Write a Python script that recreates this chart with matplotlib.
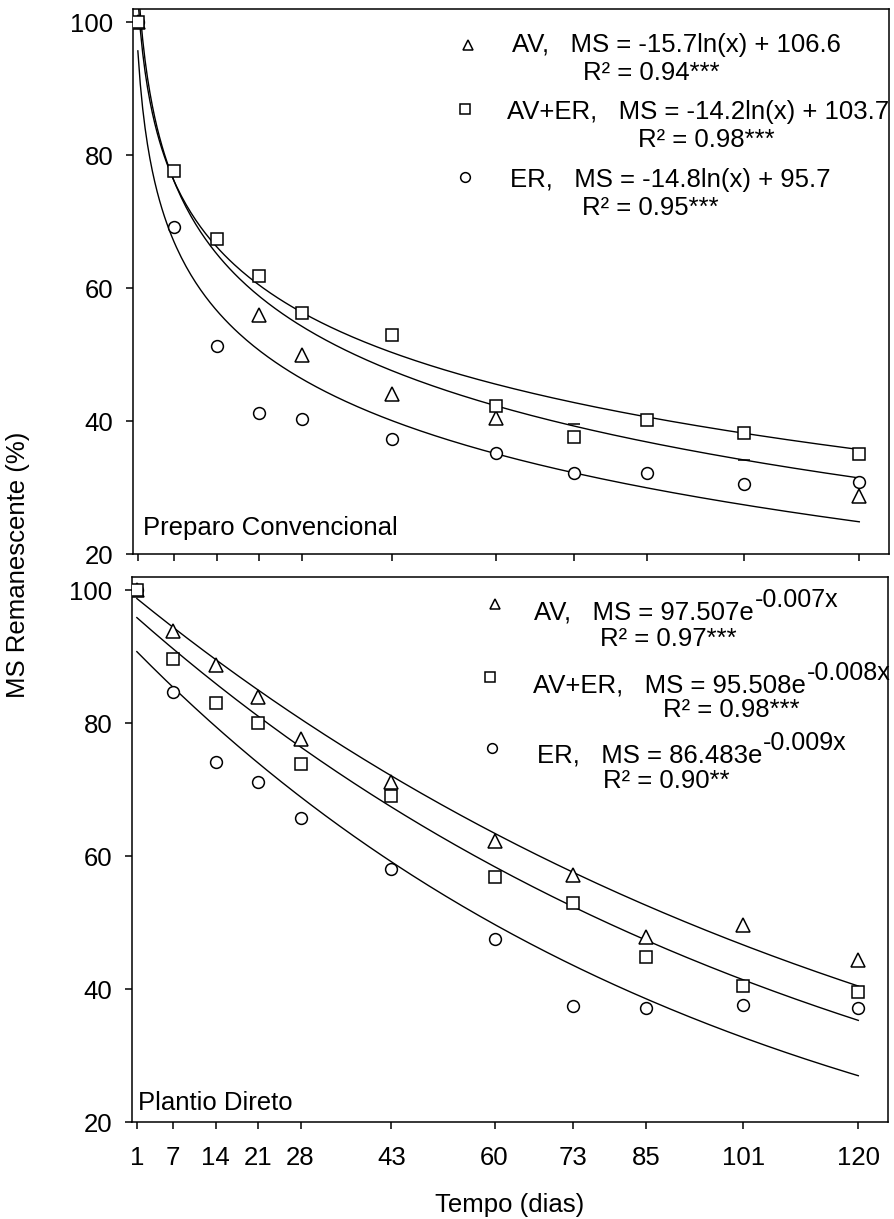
import numpy as np
import matplotlib.pyplot as plt

plt.rcParams['font.family'] = ['Liberation Sans', 'DejaVu Sans']

W, H = 895, 1219
FS = 18.5

# tempo (dias)
dias = [1, 7, 14, 21, 28, 43, 60, 73, 85, 101, 120]

# Preparo Convencional - MS remanescente (%)
pc_av = [100, np.nan, np.nan, 55.9, 49.9, 44.1, 40.5, np.nan, np.nan, np.nan, 28.7]
pc_av_partial = [np.nan, np.nan, np.nan, np.nan, np.nan, np.nan, np.nan, 39.5, np.nan, 34.2, np.nan]
pc_aver = [100, 77.7, 67.4, 61.8, 56.2, 52.9, 42.3, 37.6, 40.1, 38.2, 35.0]
pc_er = [100, 69.2, 51.3, 41.2, 40.3, 37.3, 35.2, 32.2, 32.2, 30.5, 30.8]

# Plantio Direto - MS remanescente (%)
pd_av = [100, 93.8, 88.8, 84.0, 77.7, 71.2, 62.3, 57.2, 47.8, 49.6, 44.4]
pd_aver = [100, 89.6, 83.1, 80.0, 73.9, 69.1, 56.8, 52.9, 44.8, 40.5, 39.5]
pd_er = [100, 84.7, 74.1, 71.2, 65.7, 58.0, 47.6, 37.5, 37.1, 37.6, 37.2]

# ajustes: PC -> a + b ln(x), PD -> a exp(-k x)   (ordem: AV, AV+ER, ER)
pc_fit_a = [106.6, 103.7, 95.7]
pc_fit_b = [-15.7, -14.2, -14.8]
pd_fit_a = [99.5, 96.7, 91.7]
pd_fit_k = [0.0075, 0.0084, 0.0102]

pc_eq = ["AV,   MS = -15.7ln(x) + 106.6", "AV+ER,   MS = -14.2ln(x) + 103.7", "ER,   MS = -14.8ln(x) + 95.7"]
pc_r2 = ["R² = 0.94***", "R² = 0.98***", "R² = 0.95***"]
pd_eq = ["AV,   MS = 97.507e", "AV+ER,   MS = 95.508e", "ER,   MS = 86.483e"]
pd_sup = ["-0.007x", "-0.008x", "-0.009x"]
pd_r2 = ["R² = 0.97***", "R² = 0.98***", "R² = 0.90**"]

markers = ['^', 's', 'o']
leg_msizes = [7.5, 7, 7]


def fx(px):
    return px / W


def fy(py):
    return 1 - py / H


fig = plt.figure(figsize=(W / 100, H / 100), dpi=100)
ax1 = fig.add_axes([fx(133), fy(554), fx(756), 545 / H])
ax2 = fig.add_axes([fx(132), fy(1122), fx(756), 545 / H])

xc = np.linspace(1, 120, 300)

for ax in (ax1, ax2):
    ax.set_xlim(0.2, 124.9)
    ax.set_ylim(20, 102)
    ax.set_xticks(dias)
    ax.set_yticks([20, 40, 60, 80, 100])
    ax.tick_params(direction='out', length=5, width=1.1, labelsize=FS, pad=9)
    for s in ax.spines.values():
        s.set_linewidth(1.1)

ax1.tick_params(axis='x', labelbottom=False)
ax2.tick_params(axis='x', pad=12)

mstyle = dict(ls='none', mfc='white', mec='black', mew=1.1)

# Preparo Convencional
for a, b in zip(pc_fit_a, pc_fit_b):
    ax1.plot(xc, a + b * np.log(xc), color='black', lw=1.0, zorder=2)
ax1.plot(dias, pc_er, marker='o', ms=8.5, zorder=3, **mstyle)
ax1.plot(dias, pc_av, marker='^', ms=10, zorder=4, **mstyle)
ax1.plot(dias, pc_av_partial, marker='_', ms=9, zorder=4, **mstyle)
ax1.plot(dias, pc_aver, marker='s', ms=9, zorder=5, **mstyle)
ax1.text(fx(143), fy(535), "Preparo Convencional", transform=fig.transFigure,
         fontsize=FS, va='baseline', ha='left')

# Plantio Direto
for a, k in zip(pd_fit_a, pd_fit_k):
    ax2.plot(xc, a * np.exp(-k * xc), color='black', lw=1.0, zorder=2)
ax2.plot(dias, pd_er, marker='o', ms=8.5, zorder=3, **mstyle)
ax2.plot(dias, pd_av, marker='^', ms=10, zorder=4, **mstyle)
ax2.plot(dias, pd_aver, marker='s', ms=9, zorder=5, **mstyle)
ax2.text(fx(138), fy(1110), "Plantio Direto", transform=fig.transFigure,
         fontsize=FS, va='baseline', ha='left')

# legendas com equacoes - PC
pc_mk_pos = [(468, 45), (465, 109), (465, 177)]
pc_eq_pos = [(512, 52), (507, 119), (510, 187)]
pc_r2_pos = [(583, 80), (638, 147), (582, 215)]
for i in range(3):
    ax1.plot([fx(pc_mk_pos[i][0])], [fy(pc_mk_pos[i][1])], marker=markers[i],
             ms=leg_msizes[i], transform=fig.transFigure, clip_on=False, **mstyle)
    fig.text(fx(pc_eq_pos[i][0]), fy(pc_eq_pos[i][1]), pc_eq[i], fontsize=FS, va='baseline')
    fig.text(fx(pc_r2_pos[i][0]), fy(pc_r2_pos[i][1]), pc_r2[i], fontsize=FS, va='baseline')

# legendas com equacoes - PD
pd_mk_pos = [(495, 604), (490, 677), (492, 748)]
pd_eq_pos = [(534, 619), (533, 692), (537, 762)]
pd_r2_pos = [(600, 646), (663, 717), (603, 788)]
for i in range(3):
    ax2.plot([fx(pd_mk_pos[i][0])], [fy(pd_mk_pos[i][1])], marker=markers[i],
             ms=leg_msizes[i], transform=fig.transFigure, clip_on=False, **mstyle)
    t = fig.text(fx(pd_eq_pos[i][0]), fy(pd_eq_pos[i][1]), pd_eq[i], fontsize=FS, va='baseline')
    fig.text(fx(pd_r2_pos[i][0]), fy(pd_r2_pos[i][1]), pd_r2[i], fontsize=FS, va='baseline')
    ax2.annotate(pd_sup[i], xy=(1, 0), xycoords=t, xytext=(0.5, 12.5),
                 textcoords='offset points', fontsize=18, va='baseline',
                 annotation_clip=False)

fig.text(fx(18), fy(565), "MS Remanescente (%)", rotation=90, fontsize=FS,
         ha='center', va='center')
fig.text(fx(510), fy(1212), "Tempo (dias)", fontsize=FS, ha='center', va='baseline')

fig.savefig("out.png", dpi=100)
